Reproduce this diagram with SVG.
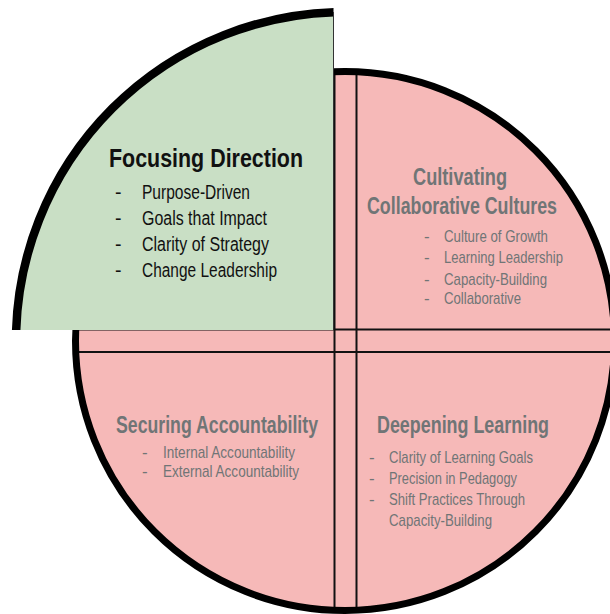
<svg xmlns="http://www.w3.org/2000/svg" width="610" height="614" viewBox="0 0 610 614">
<defs>
<style>
.t{font-family:"Liberation Sans",Arial,sans-serif;}
.h{font-weight:bold;}
.dark{fill:#111;}
.gray{fill:#707576;}
.line{stroke:#111;stroke-width:2;fill:none;}
</style>
<clipPath id="inner"><circle cx="345" cy="341" r="269"/></clipPath>
<clipPath id="greenclip"><rect x="0" y="0" width="333.5" height="330"/></clipPath>
</defs>
<rect width="610" height="614" fill="#ffffff"/>
<g id="wheel">
<circle cx="345" cy="341" r="269.5" fill="#f6b9b8"/>
</g>
<g id="connectors" clip-path="url(#inner)">
<line class="line" x1="334.5" y1="60" x2="334.5" y2="620"/>
<line class="line" x1="356.5" y1="60" x2="356.5" y2="620"/>
<line class="line" x1="60" y1="329.5" x2="620" y2="329.5"/>
<line class="line" x1="60" y1="352" x2="620" y2="352"/>
</g>
<circle cx="345" cy="341" r="269.5" fill="none" stroke="#000" stroke-width="7"/>
<g id="focusing-direction">
<path d="M333.5,330 L16.2,330 A329,329 0 0 1 333.5,12.2 Z" fill="#c9dfc5"/>
<g clip-path="url(#greenclip)">
<circle cx="345" cy="341" r="329" fill="none" stroke="#000" stroke-width="8.5"/>
</g>
<line x1="333.5" y1="12" x2="333.5" y2="330" stroke="#333" stroke-width="1"/>
<text class="t h dark" x="109" y="167" font-size="25" textLength="194" lengthAdjust="spacingAndGlyphs">Focusing Direction</text>
<g class="t dark" font-size="19.5">
<text x="115" y="199">-</text><text x="142" y="199" textLength="108" lengthAdjust="spacingAndGlyphs">Purpose-Driven</text>
<text x="115" y="225">-</text><text x="142" y="225" textLength="125" lengthAdjust="spacingAndGlyphs">Goals that Impact</text>
<text x="115" y="251">-</text><text x="142" y="251" textLength="127" lengthAdjust="spacingAndGlyphs">Clarity of Strategy</text>
<text x="115" y="277">-</text><text x="142" y="277" textLength="135" lengthAdjust="spacingAndGlyphs">Change Leadership</text>
</g>
</g>
<g id="cultivating-collaborative-cultures">
<text class="t h gray" x="413" y="185" font-size="23" textLength="94" lengthAdjust="spacingAndGlyphs">Cultivating</text>
<text class="t h gray" x="367" y="214" font-size="23" textLength="190" lengthAdjust="spacingAndGlyphs">Collaborative Cultures</text>
<g class="t gray" font-size="17">
<text x="424" y="242">-</text><text x="444" y="242" textLength="104" lengthAdjust="spacingAndGlyphs">Culture of Growth</text>
<text x="424" y="263">-</text><text x="444" y="263" textLength="119" lengthAdjust="spacingAndGlyphs">Learning Leadership</text>
<text x="424" y="285">-</text><text x="444" y="285" textLength="103" lengthAdjust="spacingAndGlyphs">Capacity-Building</text>
<text x="424" y="304">-</text><text x="444" y="304" textLength="77" lengthAdjust="spacingAndGlyphs">Collaborative</text>
</g>
</g>
<g id="securing-accountability">
<text class="t h gray" x="116" y="433" font-size="23" textLength="202" lengthAdjust="spacingAndGlyphs">Securing Accountability</text>
<g class="t gray" font-size="17">
<text x="142" y="458">-</text><text x="163" y="458" textLength="132" lengthAdjust="spacingAndGlyphs">Internal Accountability</text>
<text x="142" y="477">-</text><text x="163" y="477" textLength="136" lengthAdjust="spacingAndGlyphs">External Accountability</text>
</g>
</g>
<g id="deepening-learning">
<text class="t h gray" x="377" y="433" font-size="23" textLength="172" lengthAdjust="spacingAndGlyphs">Deepening Learning</text>
<g class="t gray" font-size="17">
<text x="369" y="463">-</text><text x="389" y="463" textLength="144" lengthAdjust="spacingAndGlyphs">Clarity of Learning Goals</text>
<text x="369" y="484">-</text><text x="389" y="484" textLength="128" lengthAdjust="spacingAndGlyphs">Precision in Pedagogy</text>
<text x="369" y="505">-</text><text x="389" y="505" textLength="136" lengthAdjust="spacingAndGlyphs">Shift Practices Through</text>
<text x="389" y="526" textLength="103" lengthAdjust="spacingAndGlyphs">Capacity-Building</text>
</g>
</g>
</svg>
